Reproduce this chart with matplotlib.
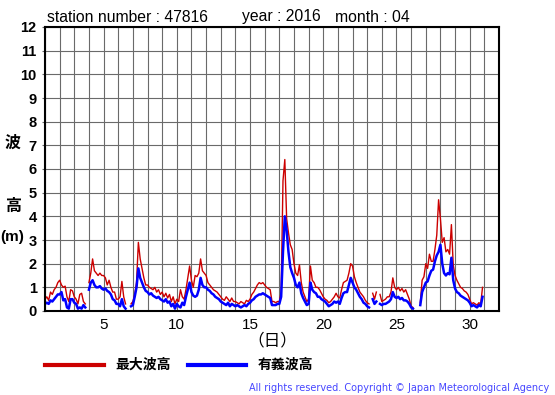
import numpy as np
import matplotlib

matplotlib.use("Agg")
import matplotlib.pyplot as plt
from matplotlib.lines import Line2D

plt.rcParams["font.family"] = ["Liberation Sans", "Noto Sans CJK JP", "DejaVu Sans"]

nan = np.nan

# 3-hourly values (00,03,...,21h), one row per day, April 2016
MAX_WAVE = [
    0.50, 0.60, 0.45, 0.80, 0.70, 0.90, 1.00, 1.20,   # 1
    1.30, 1.10, 1.00, 1.05, 0.60, 0.40, 0.90, 0.85,   # 2
    0.60, 0.50, 0.30, 0.70, 0.75, 0.40, 0.30, nan,    # 3
    1.20, 1.60, 2.20, 1.70, 1.60, 1.50, 1.60, 1.50,   # 4
    1.50, 1.40, 1.10, 1.30, 1.00, 0.80, 0.80, 0.50,   # 5
    0.50, 0.60, 1.25, 0.60, 0.30, nan, nan, 0.30,     # 6
    0.40, 0.70, 1.20, 2.90, 2.20, 1.80, 1.40, 1.10,   # 7
    1.10, 1.00, 0.95, 0.90, 1.00, 0.80, 0.90, 0.70,   # 8
    0.80, 0.60, 0.75, 0.55, 0.70, 0.40, 0.60, 0.30,   # 9
    0.50, 0.40, 0.90, 0.60, 0.50, 0.90, 1.40, 1.90,   # 10
    1.30, 1.00, 1.50, 1.45, 1.60, 2.20, 1.70, 1.60,   # 11
    1.50, 1.20, 1.10, 1.00, 0.90, 0.85, 0.80, 0.70,   # 12
    0.60, 0.50, 0.45, 0.60, 0.50, 0.40, 0.55, 0.40,   # 13
    0.40, 0.35, 0.30, 0.40, 0.35, 0.30, 0.45, 0.40,   # 14
    0.50, 0.70, 0.80, 0.95, 1.10, 1.20, 1.15, 1.20,   # 15
    1.10, 1.00, 0.95, 0.90, 0.40, 0.40, 0.35, 0.40,   # 16
    0.40, 0.80, 5.50, 6.40, 3.90, 3.30, 2.80, 2.60,   # 17
    2.00, 1.60, 1.50, 1.95, 1.20, 0.80, 0.60, 0.40,   # 18
    0.50, 1.90, 1.30, 1.20, 1.00, 1.00, 0.90, 0.75,   # 19
    0.60, 0.50, 0.45, 0.35, 0.40, 0.50, 0.60, 0.75,   # 20
    0.60, 0.55, 0.90, 1.20, 1.25, 1.30, 1.60, 2.00,   # 21
    1.90, 1.45, 1.20, 1.00, 0.80, 0.70, 0.60, 0.45,   # 22
    0.35, 0.30, nan, 0.75, 0.50, 0.80, nan, 0.70,     # 23
    0.40, 0.45, 0.50, 0.60, 0.60, 0.80, 1.40, 1.00,   # 24
    0.90, 1.00, 0.85, 0.95, 0.80, 0.90, 0.70, 0.50,   # 25
    0.20, 0.15, nan, nan, nan, 0.35, 1.30, 1.45,      # 26
    2.00, 1.80, 2.40, 2.10, 2.10, 2.60, 3.20, 4.70,   # 27
    3.90, 2.90, 3.10, 2.50, 2.60, 2.40, 3.65, 1.95,   # 28
    1.50, 1.30, 1.15, 1.00, 0.95, 0.85, 0.80, 0.70,   # 29
    0.50, 0.30, 0.35, 0.30, 0.25, 0.35, 0.30, 1.00,   # 30
]

SIG_WAVE = [
    0.30, 0.35, 0.30, 0.45, 0.40, 0.50, 0.60, 0.70,   # 1
    0.70, 0.80, 0.45, 0.50, 0.15, 0.10, 0.50, 0.50,   # 2
    0.35, 0.30, 0.10, 0.15, 0.10, 0.25, 0.15, nan,    # 3
    0.90, 1.20, 1.30, 1.10, 1.00, 1.00, 1.05, 0.95,   # 4
    0.90, 0.95, 0.85, 0.80, 0.70, 0.50, 0.45, 0.30,   # 5
    0.30, 0.20, 0.50, 0.20, 0.10, nan, nan, 0.20,     # 6
    0.25, 0.60, 1.00, 1.80, 1.40, 1.20, 1.00, 0.85,   # 7
    0.80, 0.70, 0.75, 0.65, 0.60, 0.55, 0.60, 0.50,   # 8
    0.45, 0.40, 0.50, 0.35, 0.40, 0.20, 0.30, 0.10,   # 9
    0.30, 0.20, 0.15, 0.35, 0.25, 0.60, 0.90, 1.20,   # 10
    0.80, 0.65, 0.60, 0.65, 0.90, 1.40, 1.10, 1.00,   # 11
    1.00, 0.90, 0.85, 0.75, 0.70, 0.60, 0.55, 0.50,   # 12
    0.40, 0.35, 0.30, 0.25, 0.35, 0.20, 0.30, 0.25,   # 13
    0.20, 0.25, 0.20, 0.15, 0.20, 0.25, 0.20, 0.30,   # 14
    0.35, 0.45, 0.50, 0.60, 0.65, 0.70, 0.70, 0.75,   # 15
    0.70, 0.65, 0.60, 0.55, 0.25, 0.25, 0.25, 0.30,   # 16
    0.30, 0.60, 2.50, 4.00, 3.40, 2.50, 1.85, 1.60,   # 17
    1.40, 1.10, 1.00, 1.20, 0.75, 0.55, 0.40, 0.25,   # 18
    0.30, 1.20, 0.90, 0.80, 0.75, 0.60, 0.60, 0.50,   # 19
    0.45, 0.40, 0.30, 0.20, 0.25, 0.30, 0.40, 0.35,   # 20
    0.40, 0.30, 0.55, 0.75, 0.80, 0.80, 1.10, 1.40,   # 21
    1.20, 1.00, 0.90, 0.75, 0.60, 0.50, 0.35, 0.30,   # 22
    0.20, 0.15, nan, 0.50, 0.30, 0.40, nan, 0.30,     # 23
    0.25, 0.30, 0.30, 0.35, 0.40, 0.50, 0.80, 0.60,   # 24
    0.55, 0.60, 0.50, 0.55, 0.45, 0.45, 0.40, 0.30,   # 25
    0.15, 0.10, nan, nan, nan, 0.25, 0.80, 1.00,      # 26
    1.20, 1.25, 1.50, 1.70, 1.75, 2.10, 2.35, 2.50,   # 27
    2.80, 2.00, 1.60, 1.50, 1.60, 1.55, 2.25, 1.30,   # 28
    0.95, 0.80, 0.75, 0.65, 0.60, 0.55, 0.50, 0.45,   # 29
    0.35, 0.20, 0.25, 0.20, 0.15, 0.25, 0.20, 0.60,   # 30
]

STEP_HOURS = 3
DAY_TICKS = [5, 10, 15, 20, 25, 30]
Y_TICKS = list(range(0, 13))

days = 1 + np.arange(len(MAX_WAVE)) * STEP_HOURS / 24.0

fig = plt.figure(figsize=(5.55, 3.95), dpi=100)
ax = fig.add_axes([45 / 555, 84 / 395, 454 / 555, 284 / 395])

ax.plot(days, MAX_WAVE, color="#cc0000", lw=1.0)
ax.plot(days, SIG_WAVE, color="#0000ff", lw=1.8)

ax.set_xlim(1, 32)
ax.set_ylim(0, 12)
ax.set_xticks(np.arange(1, 33), minor=True)
ax.set_xticks(DAY_TICKS)
ax.set_yticks(Y_TICKS)
ax.grid(True, which="both", color="#6a6a6a", lw=0.8)
ax.tick_params(axis="x", which="both", length=0, pad=5, labelsize=11)
ax.tick_params(axis="y", length=2, width=0.8, color="#6a6a6a", pad=4, labelsize=10.5)
for lab in ax.get_yticklabels():
    lab.set_fontweight("bold")
for sp in ax.spines.values():
    sp.set_linewidth(1.5)
    sp.set_color("black")

# title pieces
top = 1 - 17 / 395
fig.text(47 / 555, top, "station number : 47816", fontsize=11.3, va="center")
fig.text(242 / 555, top, "year : 2016", fontsize=11.3, va="center")
fig.text(335 / 555, top, "month : 04", fontsize=11.3, va="center")

# y label pieces
fig.text(13 / 555, 1 - 143 / 395, "波", fontsize=11.5, ha="center", va="center", fontweight="bold")
fig.text(13 / 555, 1 - 206 / 395, "高", fontsize=11.5, ha="center", va="center", fontweight="bold")
fig.text(12 / 555, 1 - 237 / 395, "(m)", fontsize=11, ha="center", va="center", fontweight="bold")

# x label
fig.text(272 / 555, 1 - 340 / 395, "（日）", fontsize=12, ha="center", va="center")

# legend
ly = 1 - 365 / 395
fig.add_artist(Line2D([45 / 555, 104 / 555], [ly, ly], color="#cc0000", lw=3, transform=fig.transFigure))
fig.text(115 / 555, ly, "最大波高", fontsize=10, fontweight="bold", va="center")
fig.add_artist(Line2D([188 / 555, 246 / 555], [ly, ly], color="#0000ff", lw=3, transform=fig.transFigure))
fig.text(258 / 555, ly, "有義波高", fontsize=10, fontweight="bold", va="center")

fig.text(549 / 555, 1 - 388 / 395, "All rights reserved. Copyright © Japan Meteorological Agency",
         fontsize=7, color="#4646ff", ha="right", va="center", family=["DejaVu Sans"])

fig.savefig("out.png", dpi=100)
